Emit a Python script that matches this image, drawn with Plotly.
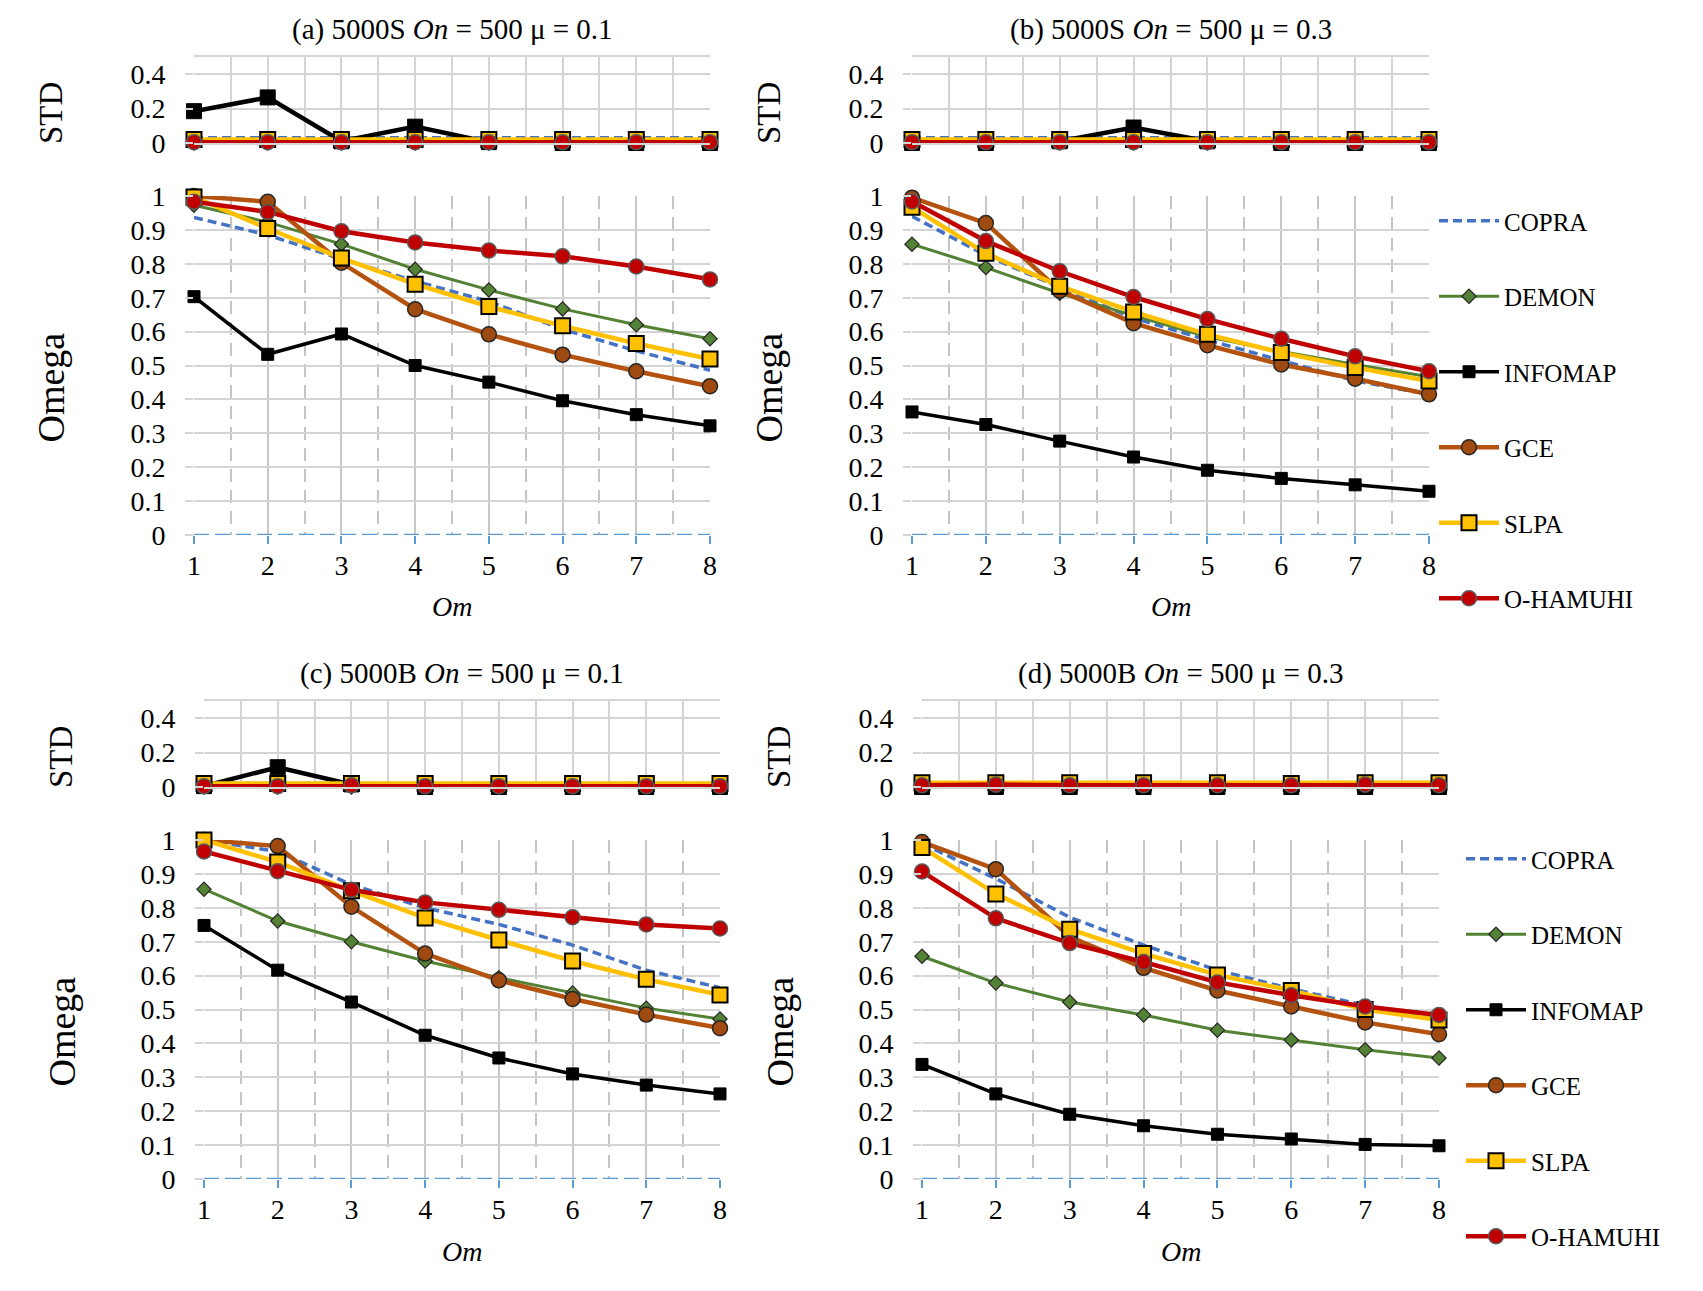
import plotly.graph_objects as go

om = [1, 2, 3, 4, 5, 6, 7, 8]
methods = ["COPRA", "DEMON", "INFOMAP", "GCE", "SLPA", "O-HAMUHI"]

# Omega values
omega_a = {
    "COPRA":    [0.937, 0.885, 0.814, 0.749, 0.689, 0.607, 0.543, 0.486],
    "DEMON":    [0.973, 0.923, 0.858, 0.784, 0.723, 0.667, 0.620, 0.579],
    "INFOMAP":  [0.703, 0.533, 0.593, 0.500, 0.451, 0.396, 0.355, 0.322],
    "GCE":      [1.000, 0.983, 0.803, 0.666, 0.592, 0.532, 0.483, 0.439],
    "SLPA":     [0.997, 0.904, 0.817, 0.740, 0.674, 0.617, 0.565, 0.519],
    "O-HAMUHI": [0.983, 0.953, 0.896, 0.863, 0.839, 0.822, 0.792, 0.754],
}
omega_b = {
    "COPRA":    [0.940, 0.825, 0.730, 0.640, 0.575, 0.515, 0.455, 0.415],
    "DEMON":    [0.858, 0.789, 0.713, 0.647, 0.585, 0.541, 0.503, 0.467],
    "INFOMAP":  [0.363, 0.326, 0.277, 0.230, 0.191, 0.167, 0.148, 0.129],
    "GCE":      [0.995, 0.920, 0.721, 0.625, 0.560, 0.503, 0.461, 0.415],
    "SLPA":     [0.967, 0.831, 0.734, 0.658, 0.592, 0.538, 0.494, 0.454],
    "O-HAMUHI": [0.984, 0.867, 0.778, 0.702, 0.637, 0.579, 0.527, 0.483],
}
omega_c = {
    "COPRA":    [1.000, 0.966, 0.868, 0.800, 0.751, 0.690, 0.616, 0.564],
    "DEMON":    [0.855, 0.761, 0.700, 0.643, 0.594, 0.549, 0.504, 0.472],
    "INFOMAP":  [0.748, 0.616, 0.522, 0.424, 0.357, 0.310, 0.277, 0.251],
    "GCE":      [1.000, 0.982, 0.803, 0.665, 0.586, 0.531, 0.485, 0.445],
    "SLPA":     [1.000, 0.935, 0.850, 0.770, 0.705, 0.643, 0.589, 0.543],
    "O-HAMUHI": [0.966, 0.908, 0.853, 0.816, 0.794, 0.772, 0.751, 0.739],
}
omega_d = {
    "COPRA":    [0.990, 0.886, 0.772, 0.690, 0.616, 0.561, 0.512, 0.469],
    "DEMON":    [0.657, 0.578, 0.522, 0.484, 0.439, 0.410, 0.381, 0.357],
    "INFOMAP":  [0.338, 0.251, 0.191, 0.157, 0.132, 0.118, 0.102, 0.098],
    "GCE":      [0.994, 0.914, 0.714, 0.623, 0.556, 0.509, 0.462, 0.427],
    "SLPA":     [0.978, 0.841, 0.737, 0.665, 0.602, 0.556, 0.500, 0.469],
    "O-HAMUHI": [0.907, 0.769, 0.696, 0.640, 0.580, 0.542, 0.509, 0.484],
}

# STD values
std_a = {
    "COPRA":    [0.03, 0.03, 0.03, 0.03, 0.03, 0.03, 0.03, 0.03],
    "DEMON":    [0.0, 0.0, 0.0, 0.0, 0.0, 0.0, 0.0, 0.0],
    "INFOMAP":  [0.185, 0.265, 0.01, 0.095, 0.005, 0.0, 0.0, 0.0],
    "GCE":      [0.01, 0.01, 0.01, 0.01, 0.01, 0.01, 0.01, 0.01],
    "SLPA":     [0.02, 0.02, 0.02, 0.02, 0.02, 0.02, 0.02, 0.02],
    "O-HAMUHI": [0.005, 0.005, 0.005, 0.005, 0.005, 0.005, 0.005, 0.005],
}
std_b = {
    "COPRA":    [0.03, 0.03, 0.03, 0.03, 0.03, 0.03, 0.03, 0.03],
    "DEMON":    [0.0, 0.0, 0.0, 0.0, 0.0, 0.0, 0.0, 0.0],
    "INFOMAP":  [0.0, 0.0, 0.01, 0.09, 0.01, 0.0, 0.0, 0.0],
    "GCE":      [0.01, 0.01, 0.01, 0.01, 0.01, 0.01, 0.01, 0.01],
    "SLPA":     [0.02, 0.02, 0.02, 0.02, 0.02, 0.02, 0.02, 0.02],
    "O-HAMUHI": [0.005, 0.005, 0.005, 0.005, 0.005, 0.005, 0.005, 0.005],
}
std_c = {
    "COPRA":    [0.02, 0.02, 0.02, 0.02, 0.02, 0.02, 0.02, 0.02],
    "DEMON":    [0.0, 0.0, 0.0, 0.0, 0.0, 0.0, 0.0, 0.0],
    "INFOMAP":  [0.005, 0.115, 0.015, 0.0, 0.0, 0.0, 0.0, 0.0],
    "GCE":      [0.01, 0.01, 0.01, 0.01, 0.01, 0.01, 0.01, 0.01],
    "SLPA":     [0.02, 0.02, 0.02, 0.02, 0.02, 0.02, 0.02, 0.02],
    "O-HAMUHI": [0.005, 0.005, 0.01, 0.005, 0.005, 0.005, 0.005, 0.005],
}
std_d = {
    "COPRA":    [0.02, 0.02, 0.02, 0.02, 0.02, 0.02, 0.02, 0.02],
    "DEMON":    [0.0, 0.0, 0.0, 0.0, 0.0, 0.0, 0.0, 0.0],
    "INFOMAP":  [0.0, 0.0, 0.0, 0.0, 0.0, 0.0, 0.0, 0.0],
    "GCE":      [0.01, 0.01, 0.01, 0.01, 0.01, 0.01, 0.01, 0.01],
    "SLPA":     [0.025, 0.025, 0.025, 0.025, 0.025, 0.02, 0.025, 0.025],
    "O-HAMUHI": [0.01, 0.015, 0.01, 0.01, 0.01, 0.01, 0.015, 0.01],
}

omega_ticks = [0, 0.1, 0.2, 0.3, 0.4, 0.5, 0.6, 0.7, 0.8, 0.9, 1]
omega_labels = ["0", "0.1", "0.2", "0.3", "0.4", "0.5", "0.6", "0.7", "0.8", "0.9", "1"]
std_ticks = [0, 0.2, 0.4]
std_labels = ["0", "0.2", "0.4"]

titles = [
    "(a) 5000S <i>On</i> = 500 μ = 0.1",
    "(b) 5000S <i>On</i> = 500 μ = 0.3",
    "(c) 5000B <i>On</i> = 500 μ = 0.1",
    "(d) 5000B <i>On</i> = 500 μ = 0.3",
]

FONT = "Liberation Serif"
GRID = "#d4d4d4"

# line / marker look per method
styles = {
    "COPRA":    dict(line=dict(color="#4472c4", width=3.5, dash="9px,5px"), mode="lines"),
    "DEMON":    dict(line=dict(color="#548235", width=3),
                     marker=dict(symbol="diamond", size=11, color="#548235",
                                 line=dict(color="#262626", width=1.2))),
    "INFOMAP":  dict(line=dict(color="#000000", width=3.5),
                     marker=dict(symbol="square", size=12, color="#000000",
                                 line=dict(color="#000000", width=1))),
    "GCE":      dict(line=dict(color="#b4530f", width=4.5),
                     marker=dict(symbol="circle", size=15, color="#9e4a10",
                                 line=dict(color="#262626", width=1.5))),
    "SLPA":     dict(line=dict(color="#ffc000", width=4.5),
                     marker=dict(symbol="square", size=15, color="#ffc000",
                                 line=dict(color="#000000", width=2))),
    "O-HAMUHI": dict(line=dict(color="#c00000", width=4.5),
                     marker=dict(symbol="circle", size=15, color="#c00000",
                                 line=dict(color="#595959", width=1.5))),
}

# canvas: page body has an 8px margin, so the figure is 16px smaller than the window
W, H, PAD = 1687, 1275, 8


def px(x):
    return (x - PAD) / W


def py(y):
    return 1 - (y - PAD) / H


# pixel boxes of each panel: x-left, x-right, std-top, std-bottom, omega-top, omega-bottom
boxes = [
    (194, 710, 57, 143, 196, 535),
    (912, 1429, 57, 143, 196, 535),
    (204, 720, 701, 787, 840, 1179),
    (922, 1439, 701, 787, 840, 1179),
]
omegas = [omega_a, omega_b, omega_c, omega_d]
stds = [std_a, std_b, std_c, std_d]

fig = go.Figure()
layout = {}
annotations = []
shapes = []

for p in range(4):
    xl, xr, st, sb, ot, ob = boxes[p]
    ks = 2 * p + 1
    ko = 2 * p + 2
    sx = "" if ks == 1 else str(ks)
    ox = str(ko)

    # STD axes
    layout["xaxis" + sx] = dict(
        domain=[px(xl), px(xr)], range=[1, 8], anchor="y" + sx,
        tickvals=om, showticklabels=False, ticks="",
        showgrid=True, gridcolor=GRID, gridwidth=1.5,
        minor=dict(dtick=0.5, tick0=1, showgrid=True, gridcolor=GRID, gridwidth=1.5),
        showline=True, mirror=True, linecolor=GRID, linewidth=1.5, zeroline=False,
    )
    layout["yaxis" + sx] = dict(
        domain=[py(sb), py(st)], range=[0, 0.5], anchor="x" + sx,
        tickvals=std_ticks, ticktext=std_labels, ticks="outside", ticklen=8,
        tickcolor=GRID, tickwidth=1.5, ticklabelstandoff=14,
        tickfont=dict(family=FONT, size=28, color="black"),
        showgrid=True, gridcolor=GRID, gridwidth=1.5, zeroline=False,
    )
    # Omega axes
    layout["xaxis" + ox] = dict(
        domain=[px(xl), px(xr)], range=[1, 8], anchor="y" + ox,
        tickvals=om, ticks="outside", ticklen=8, tickcolor="#5b9bd5", tickwidth=2,
        ticklabelstandoff=-3,
        tickfont=dict(family=FONT, size=28, color="black"),
        showgrid=True, gridcolor="#c8c8c8", gridwidth=1.5,
        minor=dict(dtick=0.5, tick0=1, showgrid=True, gridcolor="#c4c4c4", gridwidth=1.5,
                   griddash="13px,8px"),
        showline=False, zeroline=False,
    )
    layout["yaxis" + ox] = dict(
        domain=[py(ob), py(ot)], range=[0, 1], anchor="x" + ox,
        tickvals=omega_ticks, ticktext=omega_labels, ticks="outside", ticklen=8,
        tickcolor=GRID, tickwidth=1.5, ticklabelstandoff=14,
        tickfont=dict(family=FONT, size=28, color="black"),
        showgrid=True, gridcolor=GRID, gridwidth=1.5, zeroline=False,
    )

    # dashed blue x axis line of the Omega plot
    shapes.append(dict(type="line", xref="x" + ox, yref="y" + ox, x0=1, x1=8, y0=0, y1=0,
                       line=dict(color="#5b9bd5", width=2.5, dash="15px,6px"), layer="above"))

    legend_name = "legend" if p < 2 else "legend2"
    for m in methods:
        st_ = styles[m]
        mode = st_.get("mode", "lines+markers")
        # STD trace, a little bolder than the Omega one
        sline = dict(st_["line"])
        smark = None
        if "marker" in st_:
            smark = dict(st_["marker"])
            if m == "INFOMAP":
                smark = dict(smark, size=15)
                sline = dict(sline, width=4.5)
        fig.add_trace(go.Scatter(
            x=om, y=stds[p][m], mode=mode, line=sline, marker=smark,
            xaxis="x" + sx, yaxis="y" + sx, showlegend=False, cliponaxis=False,
            name=m, legendgroup=m + legend_name,
        ))
        # Omega trace
        fig.add_trace(go.Scatter(
            x=om, y=omegas[p][m], mode=mode, line=st_["line"], marker=st_.get("marker"),
            xaxis="x" + ox, yaxis="y" + ox, cliponaxis=False,
            name=m, legendgroup=m + legend_name, legend=legend_name,
            showlegend=(p % 2 == 1),
        ))

    cx = (xl + xr) / 2
    ty = 30 if p < 2 else 673
    annotations.append(dict(text=titles[p], x=px(cx), y=py(ty), xref="paper", yref="paper",
                            showarrow=False, xanchor="center", yanchor="middle",
                            font=dict(family=FONT, size=29, color="black")))
    annotations.append(dict(text="STD", x=px(xl - 143), y=py(sb - 30), xref="paper", yref="paper",
                            showarrow=False, textangle=-90, xanchor="center", yanchor="middle",
                            font=dict(family=FONT, size=33, color="black")))
    annotations.append(dict(text="Omega", x=px(xl - 143), y=py((ot + ob) / 2 + 22),
                            xref="paper", yref="paper",
                            showarrow=False, textangle=-90, xanchor="center", yanchor="middle",
                            font=dict(family=FONT, size=38, color="black")))
    annotations.append(dict(text="<i>Om</i>", x=px(cx), y=py(ob + 72), xref="paper", yref="paper",
                            showarrow=False, xanchor="center", yanchor="middle",
                            font=dict(family=FONT, size=28, color="black")))

legend_common = dict(
    xanchor="left", yanchor="top", bgcolor="rgba(0,0,0,0)", itemwidth=60,
    font=dict(family=FONT, size=25, color="black"), tracegroupgap=40,
)

fig.update_layout(
    width=W, height=H,
    margin=dict(l=0, r=0, t=0, b=0, autoexpand=False),
    paper_bgcolor="white", plot_bgcolor="white",
    font=dict(family=FONT, color="black"),
    annotations=annotations, shapes=shapes,
    legend=dict(legend_common, x=px(1434), y=py(198)),
    legend2=dict(legend_common, x=px(1461), y=py(836)),
    **layout,
)

fig.write_html("out.html")
